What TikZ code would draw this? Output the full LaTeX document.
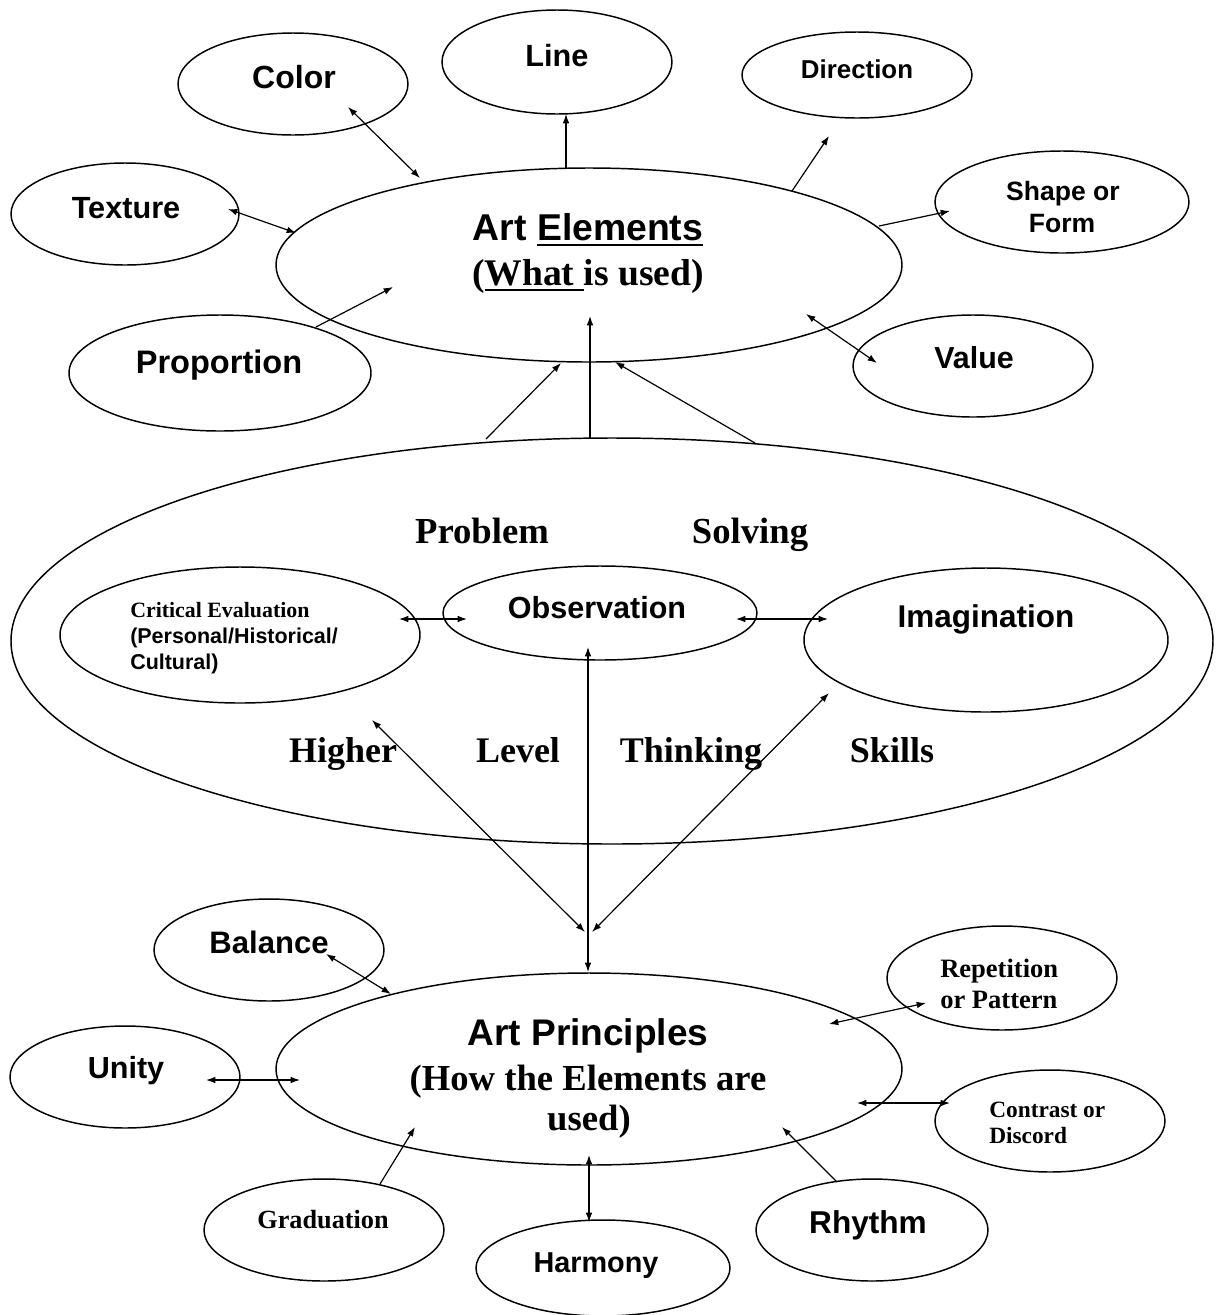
\documentclass[tikz,border=0pt]{standalone}
\usepackage{fontspec}
\setmainfont{Liberation Serif}
\setsansfont{Liberation Sans}
\usetikzlibrary{shapes.geometric,arrows.meta}
\newcommand\myul[1]{\setbox0=\hbox{#1}\rlap{\rule[-4.5pt]{\wd0}{1.5pt}}\box0}
\begin{document}
\begin{tikzpicture}[x=0.75pt,y=-0.75pt,
  oval/.style n args={2}{ellipse, draw, line width=1.1pt, minimum width=#1*1.5pt, minimum height=#2*1.5pt, inner sep=0pt},
  sf/.style={font=\sffamily\bfseries\fontsize{#1}{#1}\selectfont, anchor=base, inner sep=0pt},
  rm/.style={font=\rmfamily\bfseries\fontsize{#1}{#1}\selectfont, anchor=base, inner sep=0pt},
  one/.style={line width=0.9pt, -{Latex[length=7pt,width=5pt]}},
  two/.style={line width=0.9pt, {Latex[length=7pt,width=5pt]}-{Latex[length=7pt,width=5pt]}}
]
\useasboundingbox (0,0) rectangle (1216,1315);

% ---- ellipses ----
\node[oval={313}{97}] (ae) at (589,265) {};
\node[oval={115}{51}] (color) at (293,84) {};
\node[oval={115}{52}] (line) at (557,62) {};
\node[oval={115}{43}] (dir) at (857,75) {};
\node[oval={127}{51}] (shape) at (1062,202) {};
\node[oval={114}{51}] (tex) at (125,214) {};
\node[oval={151}{58}] (prop) at (220,373) {};
\node[oval={120}{51}] (val) at (973,366) {};
\node[oval={601}{203}] (big) at (612,641) {};
\node[oval={180}{68}] (crit) at (240,635) {};
\node[oval={157}{47}] (obs) at (600,613) {};
\node[oval={182}{72}] (imag) at (986,640) {};
\node[oval={313}{96}] (ap) at (589,1069) {};
\node[oval={115}{51}] (bal) at (269,950) {};
\node[oval={115}{51}] (unity) at (125,1077) {};
\node[oval={120}{51}] (grad) at (324,1230) {};
\node[oval={127}{48}] (harm) at (603,1268) {};
\node[oval={116}{51}] (rhy) at (872,1230) {};
\node[oval={115}{52}] (rep) at (1002,978) {};
\node[oval={115}{51}] (con) at (1050,1121) {};

% ---- texts ----
\node[sf=28] (aeT1) at (588,240) {Art \myul{Elements}};
\node[rm=28.2] (aeT2) at (588,285) {(\myul{What\ }is used)};
\node[sf=24] (colorT) at (294,88) {Color};
\node[sf=23] (lineT) at (557,66) {Line};
\node[sf=19.4] (dirT) at (857,78) {Direction};
\node[sf=19.9] (shapeT1) at (1063,200) {Shape or};
\node[sf=19.9] (shapeT2) at (1062,232) {Form};
\node[sf=23] (texT) at (126,218) {Texture};
\node[sf=24.4] (propT) at (219,373) {Proportion};
\node[sf=22.8] (valT) at (974,368) {Value};

\node[rm=27.5] (pT) at (482,543) {Problem};
\node[rm=27.5] (sT) at (750,543) {Solving};
\node[rm=27] (hT) at (343,762) {Higher};
\node[rm=27] (lT) at (518,762) {Level};
\node[rm=27] (tT) at (691,762) {Thinking};
\node[rm=27] (skT) at (892,762) {Skills};

\node[rm=16.4, anchor=base west] (critT1) at (130,617) {Critical Evaluation};
\node[sf=16.1, anchor=base west] (critT2) at (130,643) {(Personal/Historical/};
\node[sf=16.1, anchor=base west] (critT3) at (130,669) {Cultural)};
\node[sf=22.9] (obsT) at (597,618) {Observation};
\node[sf=23.6] (imagT) at (986,627) {Imagination};

\node[sf=27.8] (apT1) at (588,1045) {Art Principles};
\node[rm=27.5] (apT2) at (588,1090) {(How the Elements are};
\node[rm=27.5] (apT3) at (589,1130) {used)};
\node[sf=23.3] (balT) at (269,953) {Balance};
\node[sf=22.9] (unityT) at (126,1078) {Unity};
\node[rm=19.7] (gradT) at (323,1228) {Graduation};
\node[sf=21.6] (harmT) at (596,1272) {Harmony};
\node[sf=23.7] (rhyT) at (868,1233) {Rhythm};
\node[rm=19.9, anchor=base west] (repT1) at (940,977) {Repetition};
\node[rm=19.9, anchor=base west] (repT2) at (940,1008) {or Pattern};
\node[rm=17.5, anchor=base west] (conT1) at (989,1117) {Contrast or};
\node[rm=17.5, anchor=base west] (conT2) at (989,1143) {Discord};

% ---- connector end points ----
\coordinate (c1) at (348,107);  \coordinate (c2) at (420,178);
\coordinate (t1) at (228,209);  \coordinate (t2) at (296,233);
\coordinate (p1) at (316,327);  \coordinate (p2) at (393,287);
\coordinate (l1) at (566,168);  \coordinate (l2) at (566,114);
\coordinate (d1) at (792,191);  \coordinate (d2) at (829,136);
\coordinate (s1) at (879,226);  \coordinate (s2) at (950,211);
\coordinate (v1) at (806,314);  \coordinate (v2) at (877,363);
\coordinate (b1) at (486,439);  \coordinate (b2) at (561,363);
\coordinate (b3) at (590,438);  \coordinate (b4) at (590,316);
\coordinate (b5) at (755,443);  \coordinate (b6) at (615,362);
\coordinate (co1) at (399,619); \coordinate (co2) at (467,619);
\coordinate (oi1) at (736,619); \coordinate (oi2) at (828,619);
\coordinate (m1) at (588,647);  \coordinate (m2) at (588,972);
\coordinate (m3) at (372,720);  \coordinate (m4) at (585,932);
\coordinate (m5) at (829,693);  \coordinate (m6) at (592,932);
\coordinate (ba1) at (326,954); \coordinate (ba2) at (391,994);
\coordinate (u1) at (206,1080); \coordinate (u2) at (300,1080);
\coordinate (g1) at (380,1184); \coordinate (g2) at (415,1127);
\coordinate (h1) at (589,1155); \coordinate (h2) at (589,1222);
\coordinate (r1) at (837,1182); \coordinate (r2) at (782,1127);
\coordinate (re1) at (829,1024); \coordinate (re2) at (926,1003);
\coordinate (cn1) at (857,1103); \coordinate (cn2) at (950,1103);

% ---- connectors ----
\draw[two] (c1) -- (c2);
\draw[two] (t1) -- (t2);
\draw[one] (p1) -- (p2);
\draw[one] (l1) -- (l2);
\draw[one] (d1) -- (d2);
\draw[one] (s1) -- (s2);
\draw[two] (v1) -- (v2);
\draw[one] (b1) -- (b2);
\draw[one] (b3) -- (b4);
\draw[one] (b5) -- (b6);
\draw[two] (co1) -- (co2);
\draw[two] (oi1) -- (oi2);
\draw[two] (m1) -- (m2);
\draw[two] (m3) -- (m4);
\draw[two] (m5) -- (m6);
\draw[two] (ba1) -- (ba2);
\draw[two] (u1) -- (u2);
\draw[one] (g1) -- (g2);
\draw[two] (h1) -- (h2);
\draw[one] (r1) -- (r2);
\draw[two] (re1) -- (re2);
\draw[two] (cn1) -- (cn2);
\end{tikzpicture}
\end{document}
